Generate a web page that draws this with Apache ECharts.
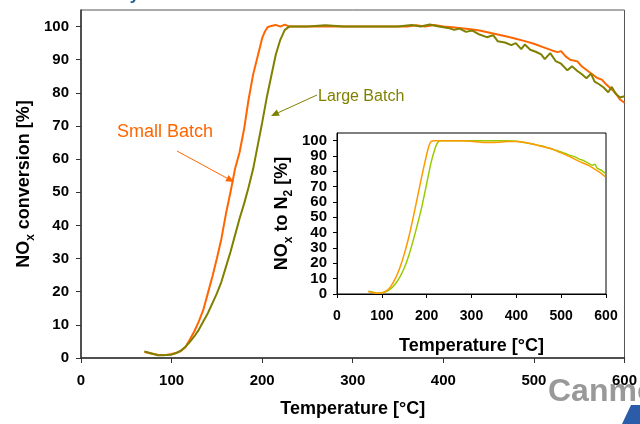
<!DOCTYPE html>
<html><head><meta charset="utf-8">
<script src="https://cdn.jsdelivr.net/npm/echarts@6/dist/echarts.min.js"></script>
<style>html,body{margin:0;padding:0;background:#fff}#c{width:640px;height:424px}</style>
</head><body><div id="c"></div>
<script>
// ---- data ----
const xTicks = [0, 100, 200, 300, 400, 500, 600];
const yTicks = [0, 10, 20, 30, 40, 50, 60, 70, 80, 90, 100];

const smallT = [70,75,80,85,90,95,100,105,110,115,120,125,130,135,140,145,150,155,160,165,170,175,180,185,190,195,200,203,206,210,215,220,225,230,240,260,280,300,320,340,360,370,380,390,400,410,420,430,440,450,460,470,480,490,500,510,520,526,530,535,540,548,552,560,570,575,580,590,595,600];
const smallV = [1.8,1.5,1.2,1.0,0.9,1.0,1.2,1.5,2.0,3.2,5.5,8.0,11.0,14.5,19.5,24.5,30.0,36.0,43.5,50.0,57.0,62.0,69.0,78.0,85.5,91.0,96.5,98.5,99.8,100.2,100.5,100.0,100.6,100.0,100,100,100,100,100,100,100,100.4,100.0,100.5,100.0,99.8,99.5,99.2,98.8,98.2,97.6,97.0,96.3,95.6,94.8,93.8,92.8,92.3,92.6,91.0,90.0,89.5,88.2,86.5,84.5,84.0,82.5,80.0,78.0,77.0];

const largeT = [70,75,80,85,90,95,100,105,110,115,120,125,130,135,140,145,150,155,160,165,170,175,180,185,190,195,200,205,210,215,220,225,230,250,270,290,310,330,350,365,375,385,395,405,412,418,425,432,440,448,455,460,468,475,480,486,490,496,502,508,512,518,524,530,537,542,548,553,558,563,567,572,577,582,586,590,595,600];
const largeV = [2.0,1.6,1.2,0.8,0.8,0.9,1.0,1.5,2.2,3.3,4.8,6.5,8.5,11,13.5,16.5,19.5,23,27.5,32,37,42,46.5,51.5,57,64,71,78.5,85,91.5,96,99,100,100,100.4,100,100,100,100,100.5,100,100.6,100,99.6,99.0,99.4,98.4,98.8,97.6,96.8,97.4,95.6,95.2,94.4,95.0,93.2,94.6,93.0,92.4,91.6,90.2,92.0,89.6,88.8,86.8,88.0,86.6,85.6,84.4,85.8,83.4,82.6,81.6,80.2,81.8,79.8,78.6,79.0];

const insetOT = [70,80,90,100,110,120,130,140,150,160,170,180,190,200,205,210,220,250,280,300,320,340,360,380,400,420,440,460,480,500,520,540,560,580,590,598];
const insetOV = [1.5,1.0,0.5,0.8,2.0,5.0,10,17,26,37,50,64,78,91,96.5,99.5,100,100,100,99.6,99.0,98.8,99.0,99.5,99.5,98.8,97.5,96.0,94.5,92.0,89.5,86.5,84.0,80.5,78.5,76.5];

const insetGT = [70,80,90,100,110,120,130,140,150,160,170,180,190,200,210,220,225,230,260,300,340,380,400,420,430,440,450,460,470,480,490,500,510,520,530,540,550,560,570,575,580,590,598];
const insetGV = [1.8,1.2,0.5,0.6,1.5,3.5,6.5,11,17,25,35,46,58,72,86,96,99,100,100,100,100,100,99.6,98.6,98.2,97.6,96.8,96.4,95.2,94.6,93.6,92.6,91.6,90.4,89.6,88.0,87.0,85.4,84.0,84.6,82.2,80.6,78.8];

const smallLabel = 'Small Batch';
const largeLabel = 'Large Batch';

// ---- helpers ----
const FONT = '"Liberation Sans", Arial, Helvetica, sans-serif';
function pairs(t, v) { return t.map((x, i) => [x, v[i]]); }
function arrow(x1, y1, x2, y2, color) {
  const a = Math.atan2(y2 - y1, x2 - x1), L = 8, W = 3.5;
  const bx = x2 - L * Math.cos(a), by = y2 - L * Math.sin(a);
  const px = -Math.sin(a) * W, py = Math.cos(a) * W;
  return [
    { type: 'line', shape: { x1: x1, y1: y1, x2: bx, y2: by }, style: { stroke: color, lineWidth: 1 }, z: 50 },
    { type: 'polygon', shape: { points: [[x2, y2], [bx + px, by + py], [bx - px, by - py]] }, style: { fill: color }, z: 50 }
  ];
}

const chart = echarts.init(document.getElementById('c'), null, { renderer: 'canvas' });

const axisLabelMain = { color: '#000', fontWeight: 'bold', fontSize: 15, fontFamily: FONT };
const axisLabelInset = { color: '#000', fontWeight: 'bold', fontSize: 14, fontFamily: FONT };

const option = {
  backgroundColor: '#fff',
  animation: false,
  grid: [
    { left: 81, top: 10, right: 12, bottom: 66, show: true, borderColor: '#555', borderWidth: 1, backgroundColor: 'transparent' },
    { left: 337, top: 133, width: 269, height: 161, show: true, borderColor: '#000', borderWidth: 1, backgroundColor: '#fff', z: 3 }
  ],
  xAxis: [
    { type: 'value', gridIndex: 0, min: 0, max: 600, interval: 100,
      axisLine: { show: true, lineStyle: { color: '#333', width: 1.5 } },
      axisTick: { show: true, length: 5, lineStyle: { color: '#333' }, customValues: xTicks },
      axisLabel: Object.assign({ margin: 15, customValues: xTicks }, axisLabelMain),
      splitLine: { show: false },
      name: 'Temperature [°C]', nameLocation: 'middle', nameGap: 42,
      nameTextStyle: { color: '#000', fontWeight: 'bold', fontSize: 18, fontFamily: FONT } },
    { type: 'value', gridIndex: 1, min: 0, max: 600, interval: 100, z: 5,
      axisLine: { show: true, lineStyle: { color: '#000', width: 1 } },
      axisTick: { show: true, length: 4, lineStyle: { color: '#000' }, customValues: xTicks },
      axisLabel: Object.assign({ margin: 15, customValues: xTicks }, axisLabelInset),
      splitLine: { show: false },
      name: 'Temperature [°C]', nameLocation: 'middle', nameGap: 43,
      nameTextStyle: { color: '#000', fontWeight: 'bold', fontSize: 18, fontFamily: FONT } }
  ],
  yAxis: [
    { type: 'value', gridIndex: 0, min: 0, max: 105,
      axisLine: { show: true, lineStyle: { color: '#333', width: 1.5 } },
      axisTick: { show: true, length: 5, lineStyle: { color: '#333' }, customValues: yTicks },
      axisLabel: Object.assign({ margin: 12, customValues: yTicks }, axisLabelMain),
      splitLine: { show: false },
      name: '{a|NO}{s|x}{a| conversion [%]}', nameLocation: 'middle', nameRotate: 90, nameGap: 44,
      nameMoveOverlap: false,
      nameTextStyle: { rich: {
        a: { color: '#000', fontWeight: 'bold', fontSize: 18, fontFamily: FONT, lineHeight: 26, verticalAlign: 'middle' },
        s: { color: '#000', fontWeight: 'bold', fontSize: 12, fontFamily: FONT, lineHeight: 12, verticalAlign: 'bottom' } } } },
    { type: 'value', gridIndex: 1, min: 0, max: 105, z: 5,
      axisLine: { show: true, lineStyle: { color: '#000', width: 1 } },
      axisTick: { show: true, length: 4, lineStyle: { color: '#000' }, customValues: yTicks },
      axisLabel: Object.assign({ margin: 10, customValues: yTicks }, axisLabelInset, { fontSize: 15 }),
      splitLine: { show: false },
      name: '{a|NO}{s|x}{a| to N}{s|2}{a| [%]}', nameLocation: 'middle', nameRotate: 90, nameGap: 42,
      nameMoveOverlap: false,
      nameTextStyle: { rich: {
        a: { color: '#000', fontWeight: 'bold', fontSize: 18, fontFamily: FONT, lineHeight: 26, verticalAlign: 'middle' },
        s: { color: '#000', fontWeight: 'bold', fontSize: 12, fontFamily: FONT, lineHeight: 12, verticalAlign: 'bottom' } } } }
  ],
  series: [
    { name: smallLabel, type: 'line', xAxisIndex: 0, yAxisIndex: 0, data: pairs(smallT, smallV),
      showSymbol: false, lineStyle: { color: '#FF6600', width: 2 }, itemStyle: { color: '#FF6600' }, z: 2 },
    { name: largeLabel, type: 'line', xAxisIndex: 0, yAxisIndex: 0, data: pairs(largeT, largeV),
      showSymbol: false, lineStyle: { color: '#808000', width: 2 }, itemStyle: { color: '#808000' }, z: 2 },
    { name: 'inset green', type: 'line', xAxisIndex: 1, yAxisIndex: 1, data: pairs(insetGT, insetGV),
      showSymbol: false, smooth: 0.2, lineStyle: { color: '#99CC00', width: 1.5 }, z: 6 },
    { name: 'inset orange', type: 'line', xAxisIndex: 1, yAxisIndex: 1, data: pairs(insetOT, insetOV),
      showSymbol: false, smooth: 0.2, lineStyle: { color: '#FF9900', width: 1.5 }, z: 7 }
  ],
  graphic: [
    { type: 'text', x: 40, y: -4.5, z: 50, style: { text: 'SCR activity test', fill: '#1F5A8C',
      font: 'bold 17px ' + FONT, textVerticalAlign: 'middle', verticalAlign: 'middle' } },
    { type: 'text', x: 117, y: 132, z: 50, style: { text: smallLabel, fill: '#FF6600',
      font: '18px ' + FONT, textVerticalAlign: 'middle', verticalAlign: 'middle' } },
    { type: 'text', x: 318, y: 97, z: 50, style: { text: largeLabel, fill: '#808000',
      font: '16px ' + FONT, textVerticalAlign: 'middle', verticalAlign: 'middle' } },
    ...arrow(177, 151, 234, 182, '#FF6600'),
    ...arrow(317, 95, 271, 116, '#808000'),
    { type: 'text', x: 548, y: 392, z: -10, zlevel: 0, style: { text: 'Canmet', fill: '#999999',
      font: 'bold 32px ' + FONT, textVerticalAlign: 'middle', verticalAlign: 'middle' } },
    { type: 'polygon', z: -10, shape: { points: [[622, 424], [631, 405], [640, 405], [640, 424]] }, style: { fill: '#2A5CAA' } }
  ]
};
chart.setOption(option);
</script>
</body></html>
